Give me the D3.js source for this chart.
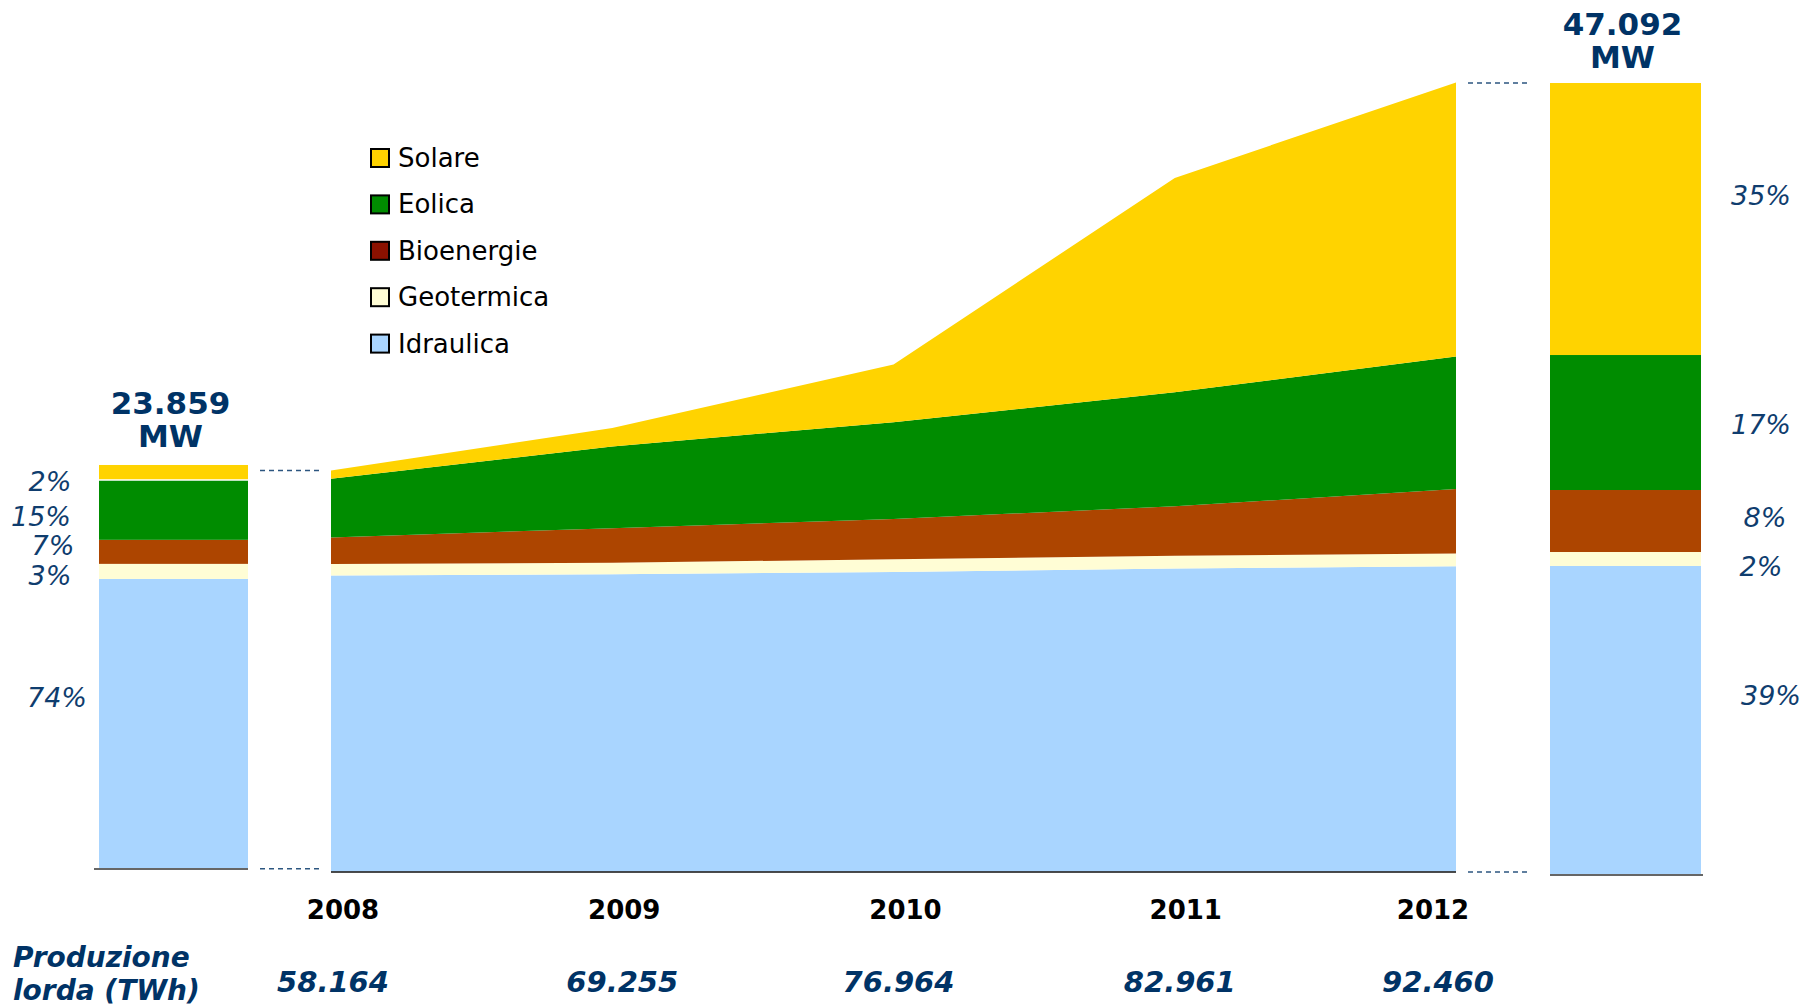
<!DOCTYPE html>
<html>
<head>
<meta charset="utf-8">
<script src="https://cdn.jsdelivr.net/npm/d3@7"></script>
<style>
  body { margin: 0; background: #fff; }
  svg { display: block; }
</style>
</head>
<body>
<div id="chart"></div>
<script>
// capacity (MW) by source
const years = ["2008", "2009", "2010", "2011", "2012"];
const sources = ["Idraulica", "Geotermica", "Bioenergie", "Eolica", "Solare"];
const idraulica = [17684, 17755, 17893, 18096, 18233];
const geotermica = [687, 687, 753, 759, 759];
const bioenergie = [1584, 2062, 2408, 2958, 3849];
const eolica = [3508, 4882, 5779, 6807, 7912];
const solare = [484, 1106, 3442, 12801, 16375];
const produzione = ["58.164", "69.255", "76.964", "82.961", "92.460"];

const leftTotal = 23859;
const leftLabel = "23.859";
const leftValues = [17130, 890, 1420, 3540, 880];
const leftPct = ["74%", "3%", "7%", "15%", "2%"];

const rightTotal = 47092;
const rightLabel = "47.092";
const rightValues = [18373, 832, 3686, 8027, 16173];
const rightPct = ["39%", "2%", "8%", "17%", "35%"];

const areaColor = {
  Idraulica: "#a9d5ff",
  Geotermica: "#fffdd5",
  Bioenergie: "#ad4500",
  Eolica: "#008c00",
  Solare: "#ffd300"
};
const legendColor = { ...areaColor, Bioenergie: "#8b1100" };

const W = 1805, H = 1007;
const navy = "#003366";
const pctColor = "#0f3d6e";
const font = "'DejaVu Sans', Verdana, sans-serif";

const svg = d3
  .select("#chart")
  .append("svg")
  .attr("width", W)
  .attr("height", H)
  .style("font-family", font);

// ---- stacked area 2008-2012
const rows = years.map((y, i) => ({
  year: y,
  Idraulica: idraulica[i],
  Geotermica: geotermica[i],
  Bioenergie: bioenergie[i],
  Eolica: eolica[i],
  Solare: solare[i]
}));

const x = d3.scalePoint().domain(years).range([331, 1456]);
const y = d3.scaleLinear().domain([0, rightTotal]).range([871.5, 83]);

const stack = d3.stack().keys(sources)(rows);

const area = d3
  .area()
  .x((d) => x(d.data.year))
  .y0((d) => y(d[0]))
  .y1((d) => y(d[1]));

svg
  .append("g")
  .selectAll("path")
  .data(stack)
  .join("path")
  .attr("fill", (d) => areaColor[d.key])
  .attr("d", area);

svg
  .append("line")
  .attr("x1", x(years[0]))
  .attr("x2", x(years[years.length - 1]))
  .attr("y1", y(0) + 0.5)
  .attr("y2", y(0) + 0.5)
  .attr("stroke", "#111")
  .attr("stroke-width", 1.5);

// ---- side bars
function drawBar(values, total, x0, x1, base, top, pct, pctX, pctDy, label, labelY, lineX) {
  const by = d3.scaleLinear().domain([0, total]).range([base, top]);
  const segs = [];
  let acc = 0;
  values.forEach((v, i) => {
    segs.push({ key: sources[i], y0: acc, y1: acc + v, pct: pct[i], px: pctX[i], dy: pctDy[i] });
    acc += v;
  });
  const g = svg.append("g");
  g.selectAll("rect")
    .data(segs)
    .join("rect")
    .attr("x", x0)
    .attr("width", x1 - x0)
    .attr("y", (d) => by(d.y1))
    .attr("height", (d) => by(d.y0) - by(d.y1))
    .attr("fill", (d) => areaColor[d.key]);

  g.append("line")
    .attr("x1", lineX[0])
    .attr("x2", lineX[1])
    .attr("y1", base)
    .attr("y2", base)
    .attr("stroke", "#666")
    .attr("stroke-width", 2);

  g.selectAll("text.pct")
    .data(segs)
    .join("text")
    .attr("class", "pct")
    .attr("x", (d) => d.px)
    .attr("y", (d) => by((d.y0 + d.y1) / 2) + d.dy + 10)
    .attr("text-anchor", "middle")
    .attr("font-size", 27)
    .attr("font-style", "italic")
    .attr("fill", pctColor)
    .text((d) => d.pct);

  const cx = (x0 + x1) / 2 - 3;
  const t = g.append("text")
    .attr("text-anchor", "middle")
    .attr("font-size", 31)
    .attr("font-weight", "bold")
    .attr("fill", navy);
  t.append("tspan").attr("x", cx).attr("y", labelY).text(label);
  t.append("tspan").attr("x", cx).attr("y", labelY + 33).text("MW");
  return by;
}

const byL = drawBar(
  leftValues, leftTotal, 99, 248, 869, 465, leftPct,
  [57, 50, 53, 41, 50], [-27, 3.5, -7, 6, 8.5], leftLabel, 414, [94, 248]
);
// thin white gap between solar and wind on the left bar
svg
  .append("line")
  .attr("x1", 99)
  .attr("x2", 248)
  .attr("y1", byL(leftTotal - leftValues[4]))
  .attr("y2", byL(leftTotal - leftValues[4]))
  .attr("stroke", "#fff")
  .attr("stroke-width", 1.5);

drawBar(
  rightValues, rightTotal, 1550, 1701, 875, 83, rightPct,
  [1771, 1761, 1765, 1761, 1761], [-25.5, 6.5, -4.5, 1, -24.5], rightLabel, 35, [1550, 1703]
);

// ---- dashed connectors
const dashed = [
  { x1: 260, x2: 321, y: y(d3.sum(sources, (k) => rows[0][k])) },
  { x1: 260, x2: 321, y: 868.7 },
  { x1: 1468, x2: 1528, y: y(rightTotal) },
  { x1: 1468, x2: 1528, y: 872 }
];
svg
  .append("g")
  .selectAll("line")
  .data(dashed)
  .join("line")
  .attr("x1", (d) => d.x1)
  .attr("x2", (d) => d.x2)
  .attr("y1", (d) => d.y)
  .attr("y2", (d) => d.y)
  .attr("stroke", "#2c5680")
  .attr("stroke-width", 1.5)
  .attr("stroke-dasharray", "5,4");

// ---- year labels and production
const yearDx = [12, 12, 12, 11, -23];
const prodDx = [2, 10, 5, 5, -18];

svg
  .append("g")
  .selectAll("text")
  .data(years)
  .join("text")
  .attr("x", (d, i) => x(d) + yearDx[i])
  .attr("y", 919)
  .attr("text-anchor", "middle")
  .attr("font-size", 26)
  .attr("font-weight", "bold")
  .attr("fill", "#000")
  .text((d) => d);

svg
  .append("g")
  .selectAll("text")
  .data(produzione)
  .join("text")
  .attr("x", (d, i) => x(years[i]) + prodDx[i])
  .attr("y", 992)
  .attr("text-anchor", "middle")
  .attr("font-size", 29)
  .attr("font-weight", "bold")
  .attr("font-style", "italic")
  .attr("fill", navy)
  .text((d) => d);

const prodTitle = svg
  .append("text")
  .attr("font-size", 28)
  .attr("font-weight", "bold")
  .attr("font-style", "italic")
  .attr("fill", navy);
prodTitle.append("tspan").attr("x", 13).attr("y", 967).text("Produzione");
prodTitle.append("tspan").attr("x", 13).attr("y", 1000).text("lorda (TWh)");

// ---- legend
const legendKeys = sources.slice().reverse();
const legend = svg
  .append("g")
  .selectAll("g")
  .data(legendKeys)
  .join("g")
  .attr("transform", (d, i) => `translate(371, ${149 + i * 46.4})`);

legend
  .append("rect")
  .attr("width", 18)
  .attr("height", 18)
  .attr("fill", (d) => legendColor[d])
  .attr("stroke", "#000")
  .attr("stroke-width", 2);

legend
  .append("text")
  .attr("x", 27)
  .attr("y", 18)
  .attr("font-size", 26)
  .attr("fill", "#000")
  .text((d) => d);
</script>
</body>
</html>
